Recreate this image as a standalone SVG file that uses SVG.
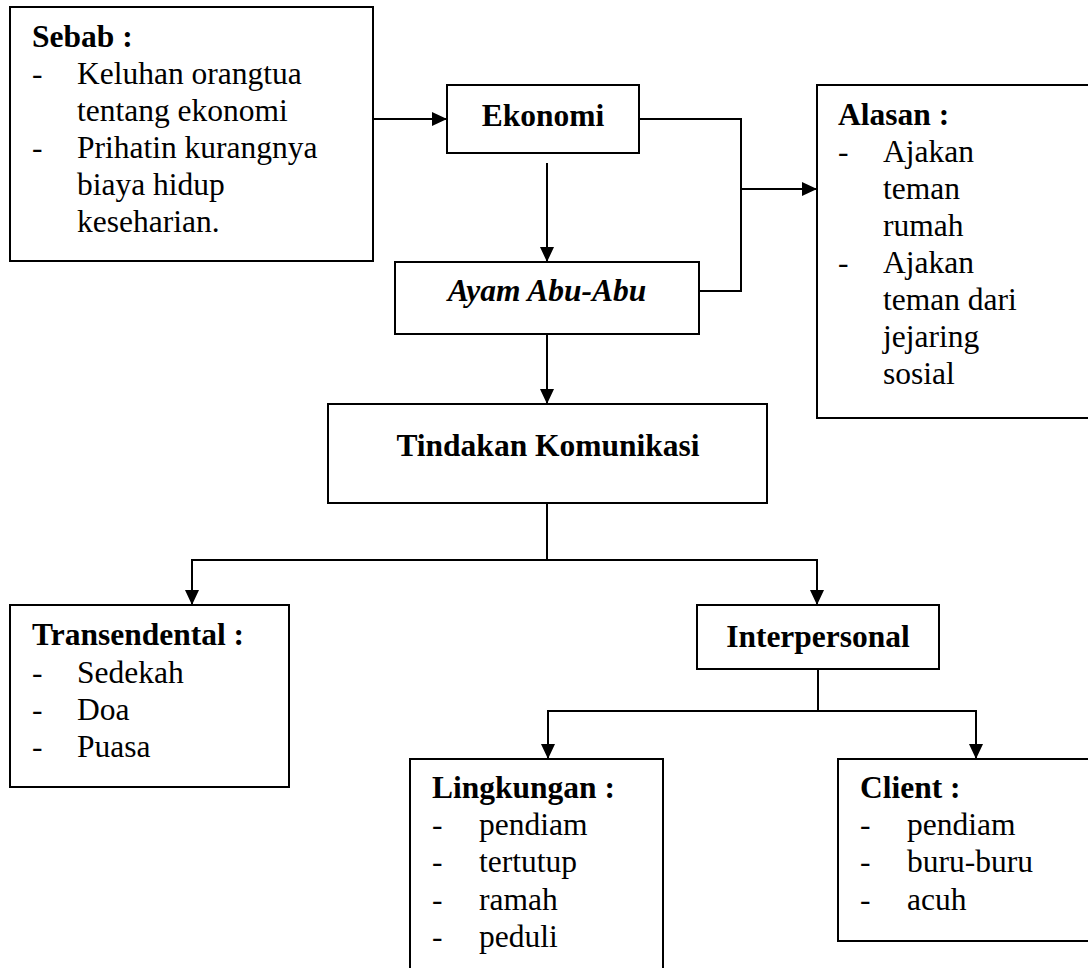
<svg xmlns="http://www.w3.org/2000/svg" width="1088" height="968" viewBox="0 0 1088 968">
<style>
.box{fill:#fff;stroke:#000;stroke-width:2}
.ln{fill:none;stroke:#000;stroke-width:2}
.t{font-family:'Liberation Serif','Tinos','Times New Roman','DejaVu Serif',serif;font-size:31.5px;fill:#000}
.b{font-weight:bold}
.bi{font-weight:bold;font-style:italic}
.c{text-anchor:middle}
</style>
<defs>
<marker id="ah" markerWidth="15" markerHeight="14" refX="15" refY="7" orient="auto" markerUnits="userSpaceOnUse">
<path d="M0,0 L15,7 L0,14 Z" fill="#000"/>
</marker>
</defs>
<rect width="1088" height="968" fill="#fff"/>
<g id="connectors">
<line class="ln" x1="373" y1="119" x2="447" y2="119" marker-end="url(#ah)"/>
<line class="ln" x1="547" y1="163" x2="547" y2="262" marker-end="url(#ah)"/>
<polyline class="ln" points="639,119 741,119 741,291 699,291"/>
<line class="ln" x1="741" y1="189" x2="817" y2="189" marker-end="url(#ah)"/>
<line class="ln" x1="547" y1="334" x2="547" y2="404" marker-end="url(#ah)"/>
<line class="ln" x1="547" y1="503" x2="547" y2="560"/>
<polyline class="ln" points="192,560 817,560"/>
<line class="ln" x1="192" y1="559" x2="192" y2="605" marker-end="url(#ah)"/>
<line class="ln" x1="817" y1="559" x2="817" y2="605" marker-end="url(#ah)"/>
<line class="ln" x1="818" y1="669" x2="818" y2="711"/>
<polyline class="ln" points="548,711 976,711"/>
<line class="ln" x1="548" y1="710" x2="548" y2="759" marker-end="url(#ah)"/>
<line class="ln" x1="976" y1="710" x2="976" y2="759" marker-end="url(#ah)"/>
</g>
<g id="sebab" class="t" font-family="Liberation Serif, Times New Roman, serif">
<rect class="box" x="10" y="7" width="363" height="254"/>
<text class="b" x="32" y="47">Sebab :</text>
<text x="32" y="84">-</text><text x="77" y="84">Keluhan orangtua</text>
<text x="77" y="121">tentang ekonomi</text>
<text x="32" y="158">-</text><text x="77" y="158">Prihatin kurangnya</text>
<text x="77" y="195">biaya hidup</text>
<text x="77" y="232">keseharian.</text>
</g>
<g id="ekonomi" class="t" font-family="Liberation Serif, Times New Roman, serif">
<rect class="box" x="447" y="85" width="192" height="68"/>
<text class="b c" x="543" y="126">Ekonomi</text>
</g>
<g id="ayam" class="t" font-family="Liberation Serif, Times New Roman, serif">
<rect class="box" x="395" y="262" width="304" height="72"/>
<text class="bi c" x="547" y="301">Ayam Abu-Abu</text>
</g>
<g id="alasan" class="t" font-family="Liberation Serif, Times New Roman, serif">
<rect class="box" x="817" y="85" width="300" height="333"/>
<text class="b" x="838" y="125">Alasan :</text>
<text x="838" y="162">-</text><text x="883" y="162">Ajakan</text>
<text x="883" y="199">teman</text>
<text x="883" y="236">rumah</text>
<text x="838" y="273">-</text><text x="883" y="273">Ajakan</text>
<text x="883" y="310">teman dari</text>
<text x="883" y="347">jejaring</text>
<text x="883" y="384">sosial</text>
</g>
<g id="tindakan" class="t" font-family="Liberation Serif, Times New Roman, serif">
<rect class="box" x="328" y="404" width="439" height="99"/>
<text class="b c" x="548" y="456">Tindakan Komunikasi</text>
</g>
<g id="transendental" class="t" font-family="Liberation Serif, Times New Roman, serif">
<rect class="box" x="10" y="605" width="279" height="182"/>
<text class="b" x="32" y="645">Transendental :</text>
<text x="32" y="683">-</text><text x="77" y="683">Sedekah</text>
<text x="32" y="720">-</text><text x="77" y="720">Doa</text>
<text x="32" y="757">-</text><text x="77" y="757">Puasa</text>
</g>
<g id="interpersonal" class="t" font-family="Liberation Serif, Times New Roman, serif">
<rect class="box" x="697" y="605" width="242" height="64"/>
<text class="b c" x="818" y="647">Interpersonal</text>
</g>
<g id="lingkungan" class="t" font-family="Liberation Serif, Times New Roman, serif">
<rect class="box" x="410" y="759" width="253" height="300"/>
<text class="b" x="432" y="798">Lingkungan :</text>
<text x="432" y="835">-</text><text x="479" y="835">pendiam</text>
<text x="432" y="872">-</text><text x="479" y="872">tertutup</text>
<text x="432" y="910">-</text><text x="479" y="910">ramah</text>
<text x="432" y="947">-</text><text x="479" y="947">peduli</text>
</g>
<g id="client" class="t" font-family="Liberation Serif, Times New Roman, serif">
<rect class="box" x="838" y="759" width="300" height="182"/>
<text class="b" x="860" y="798">Client :</text>
<text x="860" y="835">-</text><text x="907" y="835">pendiam</text>
<text x="860" y="872">-</text><text x="907" y="872">buru-buru</text>
<text x="860" y="910">-</text><text x="907" y="910">acuh</text>
</g>
</svg>
